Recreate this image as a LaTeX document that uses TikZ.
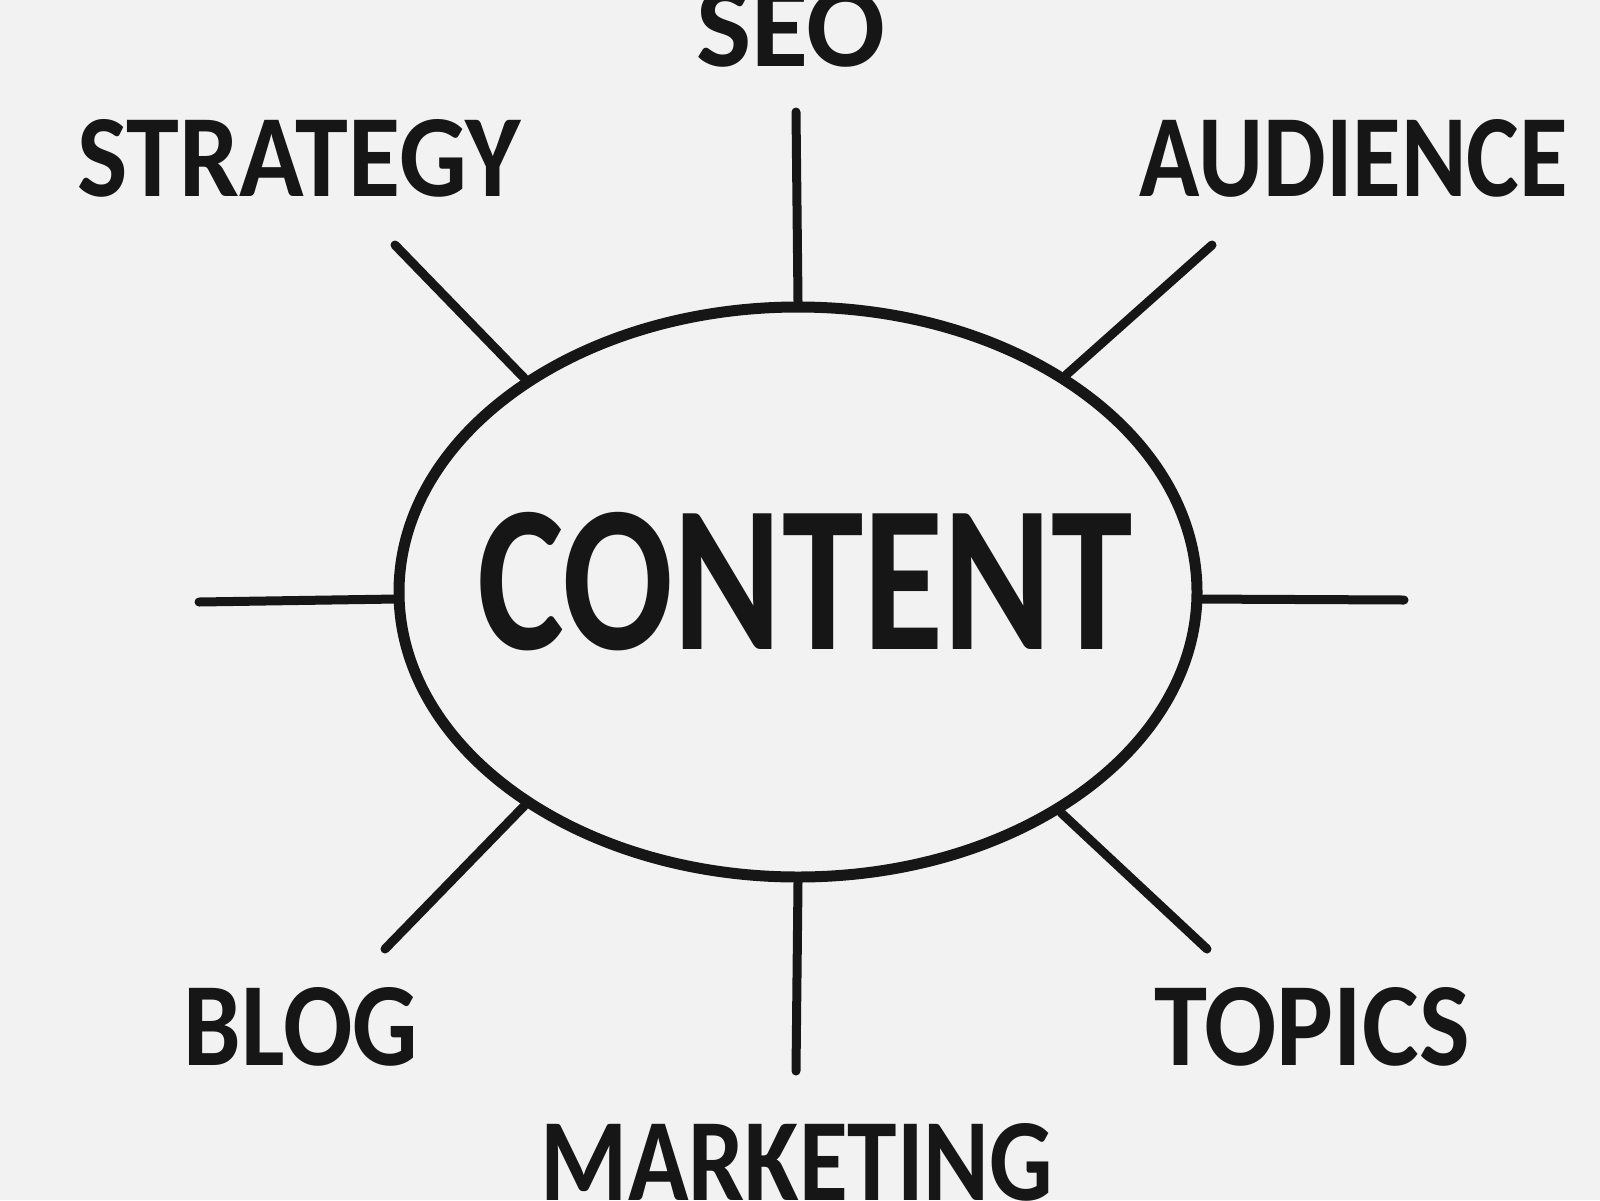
\documentclass[tikz,border=0pt]{standalone}
\usepackage{fontspec}
\setmainfont{Carlito}
\usetikzlibrary{shapes.geometric}
\definecolor{bgc}{RGB}{242,242,242}
\definecolor{ink}{RGB}{22,22,22}
\tikzset{
  spoke/.style={draw=ink, line width=9pt, line cap=round},
  hub/.style={ellipse, draw=ink, line width=11pt, minimum width=798pt, minimum height=570pt, inner sep=0pt},
  lbl/.style={text=ink, inner sep=0pt, font=\bfseries}
}
\newcommand{\fitlbl}[3]{\resizebox{#1}{#2}{#3}}
\begin{document}
\begin{tikzpicture}[x=1pt,y=-1pt]
\fill[bgc] (0,0) rectangle (1600,1200);
\useasboundingbox (0,0) rectangle (1600,1200);
\node[hub] (c) at (798,592) {};
\node[lbl] (content) at (805,582) {\fitlbl{655pt}{137pt}{CONTENT}};
\node[lbl] (seo) at (791,28) {\fitlbl{189pt}{77pt}{SEO}};
\node[lbl] (strategy) at (299,158) {\fitlbl{443pt}{77pt}{STRATEGY}};
\node[lbl] (audience) at (1354,158) {\fitlbl{428pt}{77pt}{AUDIENCE}};
\node[lbl] (blog) at (301,1027) {\fitlbl{234pt}{78pt}{BLOG}};
\node[lbl] (topics) at (1312,1027) {\fitlbl{315pt}{78pt}{TOPICS}};
\node[lbl] (marketing) at (797,1162) {\fitlbl{512pt}{77pt}{MARKETING}};
\coordinate (eT) at (796,112);
\coordinate (eB) at (796,1071);
\coordinate (eL) at (199,602);
\coordinate (eR) at (1404,600);
\coordinate (eUL) at (395,245);
\coordinate (eUR) at (1212,245);
\coordinate (eLL) at (385,949);
\coordinate (eLR) at (1207,949);
\draw[spoke] (eT) -- (c.north);
\draw[spoke] (eB) -- (c.south);
\draw[spoke] (eL) -- (c.181);
\draw[spoke] (eR) -- (c.359);
\draw[spoke] (eUL) -- (c.142);
\draw[spoke] (eUR) -- (c.39);
\draw[spoke] (eLL) -- (c.218.6);
\draw[spoke] (eLR) -- (c.320.5);
\end{tikzpicture}
\end{document}
